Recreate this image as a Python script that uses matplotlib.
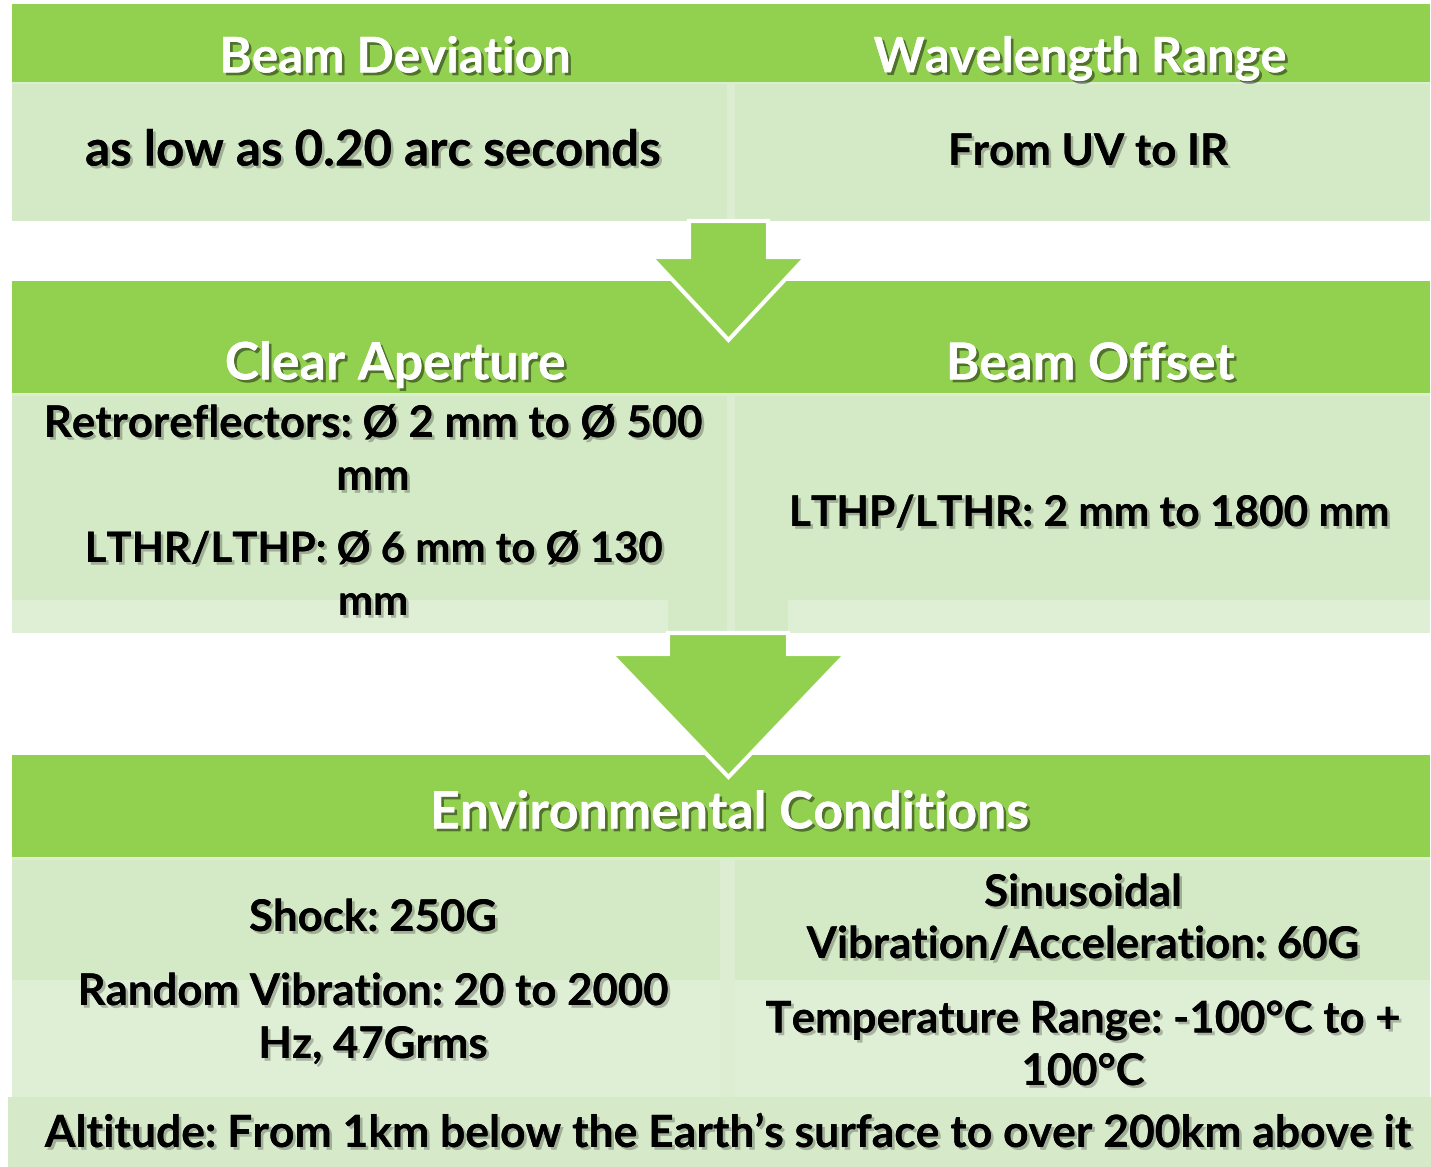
import matplotlib
matplotlib.use("Agg")
import matplotlib.pyplot as plt
from matplotlib.patches import Rectangle, Polygon
import matplotlib.patheffects as pe

# texts of the diagram
headers = ["Beam Deviation", "Wavelength Range", "Clear Aperture", "Beam Offset",
           "Environmental Conditions"]
row1_text = ["as low as 0.20 arc seconds", "From UV to IR"]
aperture_lines = ["Retroreflectors: Ø 2 mm to Ø 500", "mm",
                  "LTHR/LTHP: Ø 6 mm to Ø 130", "mm"]
offset_text = "LTHP/LTHR: 2 mm to 1800 mm"
env_left = ["Shock: 250G", "Random Vibration: 20 to 2000", "Hz, 47Grms"]
env_right = ["Sinusoidal", "Vibration/Acceleration: 60G",
             "Temperature Range: -100°C to +", "100°C"]
altitude = "Altitude: From 1km below the Earth’s surface to over 200km above it"

GREEN = "#92d050"
CELL = "#d4eac6"
CELL2 = "#dfefd5"
SEAM = "#dcedd2"
FONT = "Lato"

fig = plt.figure(figsize=(14.31, 11.67), dpi=100)
ax = fig.add_axes([0, 0, 1, 1])
ax.set_xlim(0, 1431)
ax.set_ylim(1167, 0)
ax.axis("off")


def box(x0, y0, x1, y1, color, z=1):
    ax.add_patch(Rectangle((x0, y0), x1 - x0, y1 - y0, facecolor=color,
                           edgecolor="none", zorder=z))


def arrow(xs0, xs1, ytop, yneck, xh0, xh1, ytip):
    xc = (xh0 + xh1) / 2
    pts = [(xs0, ytop), (xs1, ytop), (xs1, yneck), (xh1, yneck), (xc, ytip),
           (xh0, yneck), (xs0, yneck)]
    ax.add_patch(Polygon(pts, closed=True, facecolor=GREEN, edgecolor="white",
                         linewidth=3, joinstyle="miter", zorder=5))


white_fx = [pe.withSimplePatchShadow(offset=(2, -2), shadow_rgbFace="black", alpha=0.45),
            pe.Normal()]
dark_fx = [pe.withSimplePatchShadow(offset=(2, -2), shadow_rgbFace="black", alpha=0.25),
           pe.Normal()]


def head(x, y, s, size=37.3):
    ax.text(x, y, s, ha="center", va="center", color="white", fontsize=size,
            fontweight="bold", family=FONT, path_effects=white_fx, zorder=6)


def body(x, y, s, size=31.5):
    ax.text(x, y, s, ha="center", va="center", color="black", fontsize=size,
            fontweight="bold", family=FONT, path_effects=dark_fx, zorder=6)


# top block
box(12, 4, 1430, 82, GREEN)
box(12, 82, 1430, 221, SEAM)
box(12, 84, 727, 221, CELL, 2)
box(735, 84, 1430, 221, CELL, 2)
head(395, 58, headers[0], 35.5)
head(1080, 58, headers[1], 35.2)
body(373, 151, row1_text[0], 35.5)
body(1088, 152, row1_text[1])
arrow(689, 768, 221, 257, 651, 806, 340)

# middle block
box(12, 281, 1430, 393, GREEN)
box(12, 393, 1430, 633, SEAM)
box(12, 396, 727, 633, CELL, 2)
box(735, 396, 1430, 633, CELL, 2)
box(12, 600, 668, 633, CELL2, 3)
box(788, 600, 1430, 633, CELL2, 3)
head(395, 365, headers[2])
head(1090, 365, headers[3], 36.8)
for yy, s, fs in zip([424, 477, 550, 603], aperture_lines, [31.5, 31.5, 30.2, 30.2]):
    body(373, yy, s, fs)
body(1089, 514, offset_text, 30.5)
arrow(668, 788, 633, 654, 611, 846, 777)

# bottom block
box(12, 755, 1430, 857, GREEN)
box(12, 857, 1430, 1097, SEAM)
box(12, 860, 720, 980, CELL, 2)
box(12, 980, 720, 1097, CELL2, 2)
box(735, 860, 1430, 980, CELL, 2)
box(735, 980, 1430, 1097, CELL2, 2)
box(8, 1097, 1431, 1167, "#d6eaca", 2)
head(729, 814, headers[4])
for yy, s in zip([918, 992, 1045], env_left):
    body(373, yy, s)
for yy, s in zip([893, 945, 1020, 1072], env_right):
    body(1083, yy, s)
body(729, 1134, altitude, 32)

fig.savefig("out.png", dpi=100, facecolor="white")
